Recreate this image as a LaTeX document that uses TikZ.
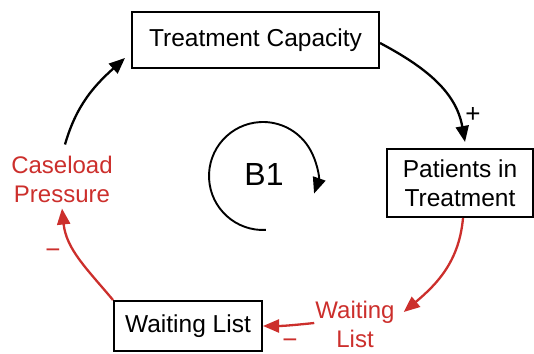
\documentclass[tikz,border=0pt]{standalone}
\usepackage{fontspec}
\setmainfont{Liberation Sans}
\usetikzlibrary{arrows.meta}
\definecolor{cldred}{HTML}{CC2F2C}
\begin{document}
\begin{tikzpicture}[x=1pt,y=1pt,
  box/.style={draw, line width=2pt, inner sep=0pt, align=center,
    font=\fontsize{24.5}{29}\selectfont},
  lbl/.style={inner sep=1pt, align=center, font=\fontsize{24}{29}\selectfont},
  tip/.style={-{Triangle[length=16pt,width=13pt]}},
  link/.style={line width=2.3pt, tip},
  sign/.style={inner sep=0pt, font=\fontsize{26}{26}\selectfont}]
\useasboundingbox (0,0) rectangle (534,353);
% boxes
\node[box, minimum width=247pt, minimum height=56pt] (tc) at (255.5,313) {Treatment Capacity};
\node[box, minimum width=146pt, minimum height=68pt] (pt) at (460,170) {Patients in\\Treatment};
\node[box, minimum width=148pt, minimum height=50pt] (wl) at (188,27) {Waiting List};
% red variable labels
\node[lbl, text=cldred] (cp) at (62,174) {Caseload\\Pressure};
\node[lbl, text=cldred] (wll) at (355,29) {Waiting\\List};
% loop marker
\node[font=\fontsize{32}{32}\selectfont] (b1) at (264,179) {B1};
\draw[line width=1.9pt, tip]
  (263,177) ++(273:54) arc[start angle=273, end angle=-19, radius=54pt];
% connectors
\draw[link] ([shift={(3,10)}]cp.north) to[out=74, in=222] ([shift={(-6,11)}]tc.south west);
\draw[link] ([yshift=-3]tc.east) to[out=-28, in=100] ([shift={(5,6)}]pt.north);
\draw[link, cldred] ([xshift=3]pt.south) to[out=-95, in=40] ([shift={(8,12)}]wll.east);
\draw[link, cldred] ([yshift=1]wll.west) to[out=186, in=0] (wl.east);
\draw[link, cldred] (wl.north west) to[out=130, in=-84] ([yshift=-5]cp.south);
% polarity signs
\node[sign] (pplus) at (473,238) {+};
\node[sign, text=cldred] (pm1) at (290,9) {−};
\node[sign, text=cldred] (pm2) at (53,99) {−};
\end{tikzpicture}
\end{document}
